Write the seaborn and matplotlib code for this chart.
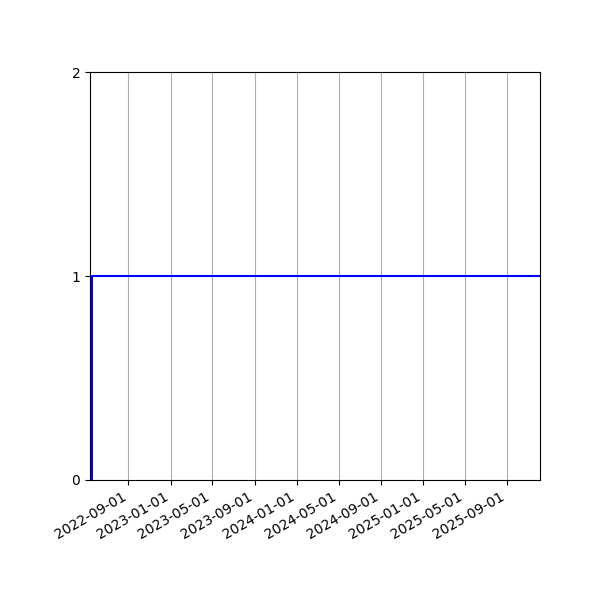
import matplotlib
matplotlib.use('Agg')
import matplotlib.pyplot as plt
import matplotlib.dates as mdates
import seaborn as sns
import pandas as pd

# data
dates = ['2022-05-13', '2022-05-19', '2025-12-05']
values = [0, 1, 1]

df = pd.DataFrame({'date': pd.to_datetime(dates), 'value': values})

fig, ax = plt.subplots(figsize=(6, 6), dpi=100)
sns.lineplot(data=df, x='date', y='value', ax=ax, color='blue',
             linewidth=1.5, drawstyle='steps-post')

ax.set_xlim(df['date'].min(), df['date'].max())
ax.set_ylim(0, 2)
ax.set_yticks([0, 1, 2])
ax.xaxis.set_major_locator(mdates.MonthLocator(bymonth=[1, 5, 9]))
ax.xaxis.set_major_formatter(mdates.DateFormatter('%Y-%m-%d'))
ax.grid(axis='x', color='#b0b0b0', linewidth=0.8)
ax.set_xlabel('')
ax.set_ylabel('')

fig.autofmt_xdate()
fig.subplots_adjust(left=0.15, right=0.9, top=0.88, bottom=0.2)
fig.savefig('out.png', dpi=100)
